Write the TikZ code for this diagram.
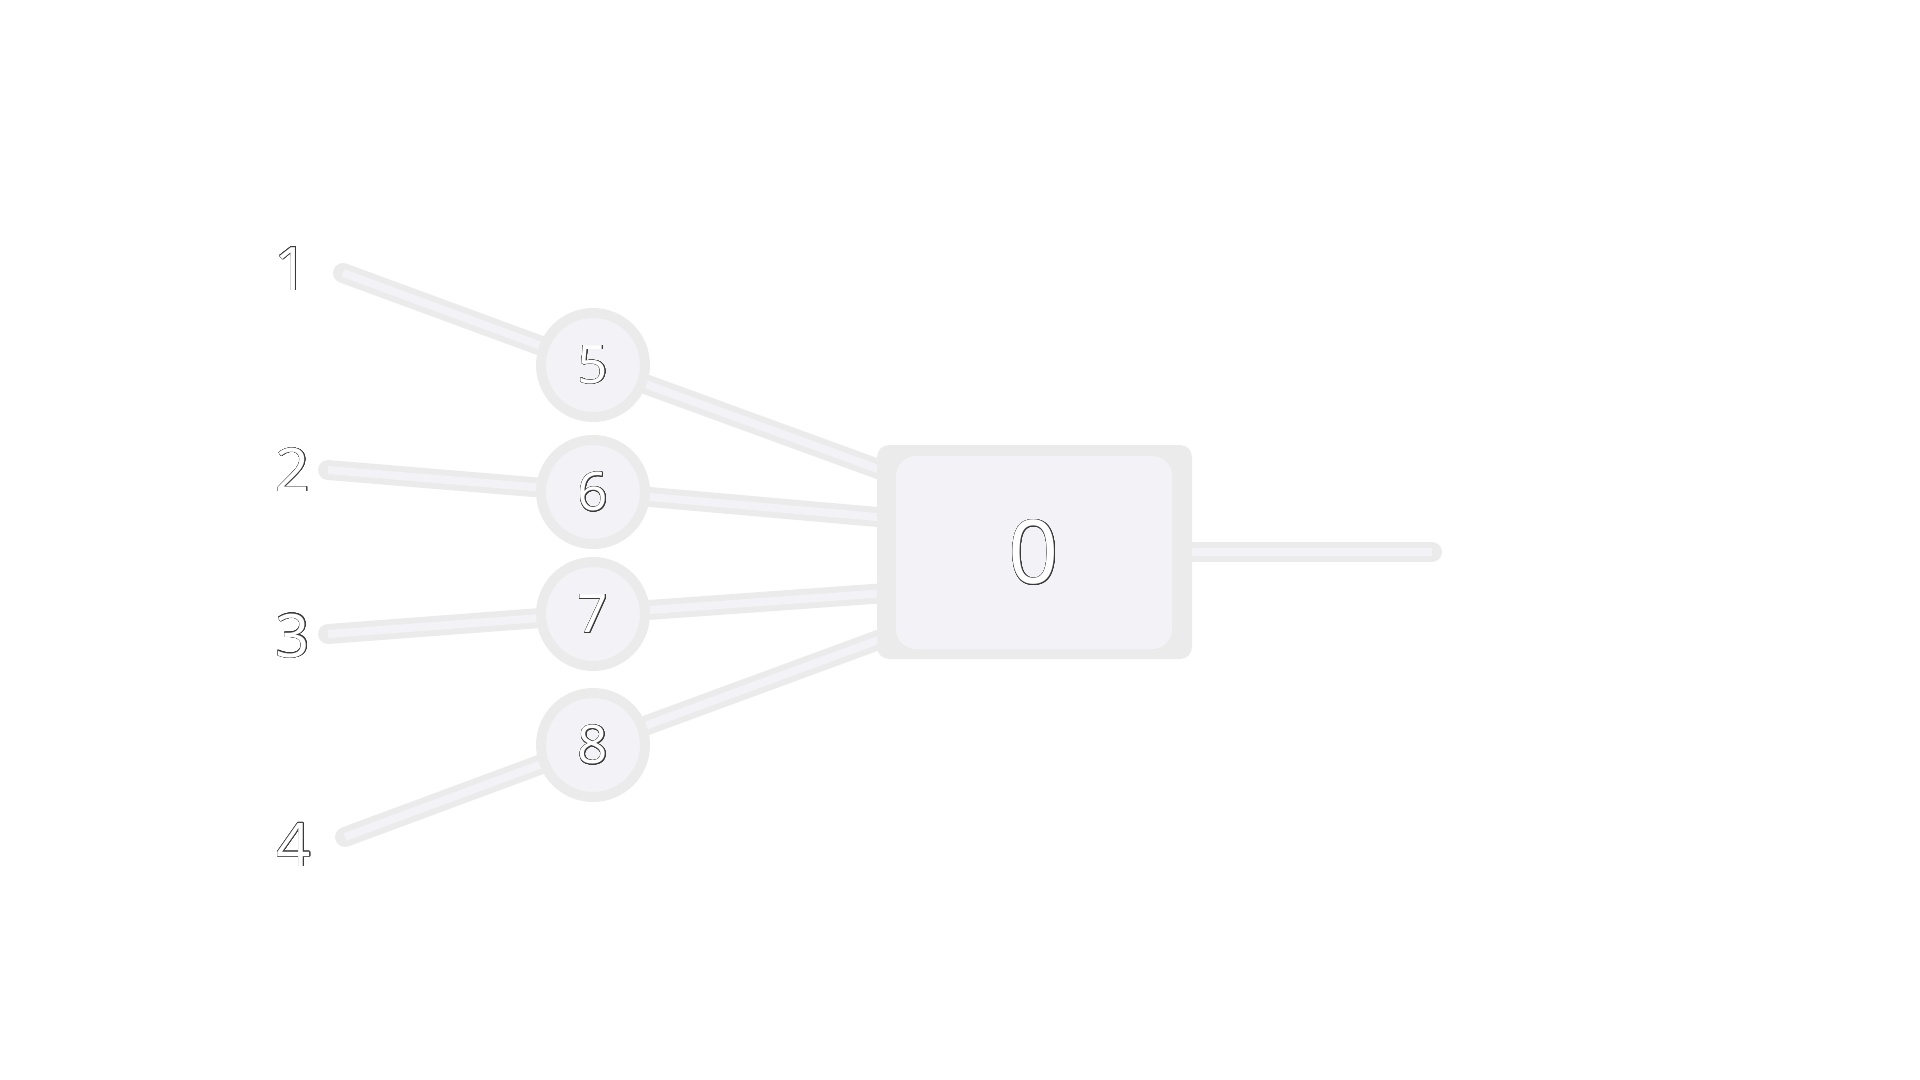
\documentclass[tikz,border=0pt]{standalone}
\usepackage{fontspec}
\setmainfont{Open Sans}
\usepackage{contour}
\contourlength{0.22pt}
\contournumber{24}
\definecolor{edgegray}{HTML}{EBEBEB}
\definecolor{fillgray}{HTML}{F3F3F7}
\definecolor{inkline}{HTML}{3A3A3A}
\newcommand{\otext}[1]{\contour{inkline}{\textcolor{white}{#1}}}
\begin{document}
\begin{tikzpicture}[x=0.5pt,y=-0.5pt,
  wire/.style={line width=10pt, draw=edgegray, line cap=round},
  wirein/.style={line width=4pt, draw=fillgray, line cap=butt},
  hid/.style={circle, draw=edgegray, line width=5pt, fill=fillgray, minimum size=52pt, inner sep=0pt, font=\fontsize{26.6}{30}\selectfont},
  inlabel/.style={font=\fontsize{30}{34}\selectfont, inner sep=0pt},
  outerbox/.style={rectangle, fill=edgegray, rounded corners=6pt, minimum width=157.5pt, minimum height=107pt, inner sep=0pt},
  innerbox/.style={rectangle, fill=fillgray, rounded corners=10pt, minimum width=138pt, minimum height=96.5pt, inner sep=0pt, font=\fontsize{44}{50}\selectfont},
]
\useasboundingbox (0,0) rectangle (1920,1080);
% input line ends
\coordinate (i1) at (343,273);
\coordinate (i2) at (328,470);
\coordinate (i3) at (328,634);
\coordinate (i4) at (345,837);
% hidden node centres
\coordinate (p5) at (593,365);
\coordinate (p6) at (593,492);
\coordinate (p7) at (593,614);
\coordinate (p8) at (593,745);
% ends inside box
\coordinate (e1) at (900,477);
\coordinate (e2) at (900,519);
\coordinate (e3) at (900,592);
\coordinate (e4) at (900,632);
\coordinate (oc) at (1034.5,552);
\coordinate (out) at (1432,552);
% wires
\foreach \a/\b/\c in {i1/p5/e1, i2/p6/e2, i3/p7/e3, i4/p8/e4}{
  \draw[wire] (\a) -- (\b) -- (\c);
}
\draw[wire] (oc) -- (out);
\foreach \a/\b/\c in {i1/p5/e1, i2/p6/e2, i3/p7/e3, i4/p8/e4}{
  \draw[wirein] (\a) -- (\b) -- (\c);
}
\draw[wirein] (oc) -- (out);
% nodes
\node[hid] (h5) at (p5) {\otext{5}};
\node[hid] (h6) at (p6) {\otext{6}};
\node[hid] (h7) at (p7) {\otext{7}};
\node[hid] (h8) at (p8) {\otext{8}};
\node[outerbox] (o) at (oc) {};
\node[innerbox] (oi) at (1034,552.5) {\otext{0}};
% input labels
\node[inlabel] (l1) at (292,269) {\otext{1}};
\node[inlabel] (l2) at (293,470) {\otext{2}};
\node[inlabel] (l3) at (293,636) {\otext{3}};
\node[inlabel] (l4) at (294,845) {\otext{4}};
\end{tikzpicture}
\end{document}
